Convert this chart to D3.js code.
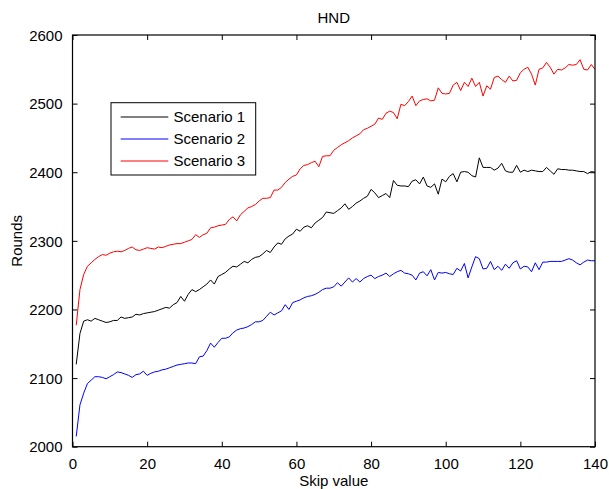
<!DOCTYPE html>
<html><head><meta charset="utf-8">
<script src="https://cdn.jsdelivr.net/npm/d3@7"></script>
<style>
html,body{margin:0;padding:0;background:#fff;}
svg text{font-family:"Liberation Sans",Arial,Helvetica,sans-serif;font-size:15px;fill:#000;}
</style></head>
<body>
<svg id="chart" width="609" height="489"></svg>
<script>
const title = "HND";
const xLabel = "Skip value";
const yLabel = "Rounds";
const seriesNames = ["Scenario 1", "Scenario 2", "Scenario 3"];
const seriesColors = ["#000000", "#0000ff", "#ff0000"];
const xTicks = [0, 20, 40, 60, 80, 100, 120, 140];
const yTicks = [2000, 2100, 2200, 2300, 2400, 2500, 2600];

const scenario1 = [
2120,2165,2183,2185,2183,2187,2185,2183,2181,2182,
2184,2184,2189,2187,2188,2189,2193,2192,2194,2195,
2196,2197,2199,2201,2203,2202,2207,2210,2219,2212,
2222,2229,2226,2229,2233,2237,2243,2237,2248,2251,
2254,2259,2263,2262,2266,2270,2268,2273,2276,2277,
2281,2286,2283,2291,2297,2295,2303,2307,2310,2317,
2314,2320,2322,2319,2326,2330,2334,2342,2341,2340,
2344,2348,2354,2346,2350,2355,2358,2362,2365,2375,
2370,2363,2366,2369,2363,2388,2381,2380,2380,2379,
2387,2389,2383,2393,2380,2378,2383,2368,2390,2386,
2394,2398,2386,2400,2401,2400,2395,2393,2421,2407,
2407,2407,2403,2406,2413,2402,2400,2400,2410,2400,
2403,2401,2403,2402,2401,2401,2407,2402,2397,2405,
2404,2404,2403,2403,2402,2401,2401,2398,2401,2400];

const scenario2 = [
2015,2061,2078,2092,2097,2102,2102,2101,2099,2102,
2105,2109,2108,2106,2104,2101,2105,2106,2110,2104,
2107,2109,2110,2112,2113,2115,2117,2119,2120,2121,
2122,2122,2121,2131,2132,2140,2151,2145,2152,2158,
2158,2160,2166,2170,2172,2173,2175,2178,2182,2182,
2184,2190,2196,2192,2195,2198,2207,2200,2210,2212,
2214,2217,2219,2220,2222,2225,2229,2231,2231,2233,
2239,2234,2240,2246,2240,2245,2240,2245,2248,2250,
2245,2248,2250,2253,2248,2252,2255,2257,2253,2252,
2250,2243,2253,2255,2249,2258,2243,2254,2253,2254,
2252,2251,2260,2256,2267,2246,2262,2277,2274,2259,
2260,2270,2258,2263,2257,2266,2260,2268,2271,2259,
2263,2262,2255,2268,2258,2269,2269,2270,2270,2270,
2270,2272,2274,2272,2268,2265,2269,2272,2271,2271];

const scenario3 = [
2177,2229,2251,2263,2268,2273,2277,2280,2279,2282,
2284,2285,2284,2286,2289,2291,2287,2286,2288,2290,
2289,2288,2291,2290,2292,2294,2295,2296,2296,2298,
2300,2302,2309,2305,2309,2311,2319,2320,2322,2323,
2324,2331,2335,2329,2338,2343,2348,2350,2353,2358,
2362,2362,2363,2374,2374,2378,2385,2390,2394,2396,
2405,2410,2411,2414,2416,2408,2423,2424,2424,2432,
2436,2440,2443,2446,2450,2453,2456,2462,2464,2467,
2470,2479,2477,2486,2489,2487,2478,2499,2497,2503,
2511,2497,2504,2506,2507,2504,2505,2523,2515,2514,
2515,2527,2531,2519,2531,2525,2537,2525,2531,2511,
2526,2521,2538,2540,2535,2531,2540,2533,2534,2545,
2550,2553,2543,2527,2550,2552,2560,2553,2543,2550,
2549,2552,2557,2556,2557,2564,2550,2549,2557,2550];

const allSeries = [scenario1, scenario2, scenario3];

const svg = d3.select("#chart");
const L = 72.5, R = 595, T = 35, B = 446.7;
const x = d3.scaleLinear().domain([0, 140]).range([L, R]);
const y = d3.scaleLinear().domain([2000, 2600]).range([B, T]);

// axes with inward ticks
const tickLen = 5;
const gx = svg.append("g").attr("transform", `translate(0,${B})`)
  .call(d3.axisBottom(x).tickValues(xTicks).tickSizeInner(-tickLen).tickSizeOuter(0).tickPadding(12).tickFormat(d3.format("d")));
const gxTop = svg.append("g").attr("transform", `translate(0,${T})`)
  .call(d3.axisTop(x).tickValues(xTicks).tickSizeInner(-tickLen).tickSizeOuter(0).tickFormat(""));
const gy = svg.append("g").attr("transform", `translate(${L},0)`)
  .call(d3.axisLeft(y).tickValues(yTicks).tickSizeInner(-tickLen).tickSizeOuter(0).tickPadding(10).tickFormat(d3.format("d")));
const gyR = svg.append("g").attr("transform", `translate(${R},0)`)
  .call(d3.axisRight(y).tickValues(yTicks).tickSizeInner(-tickLen).tickSizeOuter(0).tickFormat(""));
[gx, gxTop, gy, gyR].forEach(g => {
  g.select(".domain").remove();
  g.selectAll(".tick line").attr("stroke", "#000").attr("stroke-width", 1);
  g.selectAll(".tick text").style("font-size", "15px").attr("fill", "#000");
});
gx.selectAll(".tick text").attr("dy", "0.71em");
gy.selectAll(".tick text").attr("dy", "0.35em");

// lines
const line = d3.line().x((d, i) => x(i + 1)).y(d => y(d));
allSeries.forEach((s, k) => {
  svg.append("path").datum(s).attr("fill", "none")
    .attr("stroke", seriesColors[k]).attr("stroke-width", 1)
    .attr("d", line);
});

// box
svg.append("rect").attr("x", L).attr("y", T).attr("width", R - L).attr("height", B - T)
  .attr("fill", "none").attr("stroke", "#000").attr("stroke-width", 1.2);

// title & labels
svg.append("text").attr("x", (L + R) / 2).attr("y", 23).attr("text-anchor", "middle").text(title);
svg.append("text").attr("x", (L + R) / 2).attr("y", 486).attr("text-anchor", "middle").text(xLabel);
svg.append("text").attr("transform", `translate(22,${(T + B) / 2}) rotate(-90)`)
  .attr("text-anchor", "middle").text(yLabel);

// legend
const lg = svg.append("g");
lg.append("rect").attr("x", 111).attr("y", 102.7).attr("width", 144.7).attr("height", 72.3)
  .attr("fill", "#fff").attr("stroke", "#000").attr("stroke-width", 1);
seriesNames.forEach((n, k) => {
  const yy = 117 + k * 22;
  lg.append("line").attr("x1", 120.7).attr("x2", 168.3).attr("y1", yy).attr("y2", yy)
    .attr("stroke", seriesColors[k]).attr("stroke-width", 1);
  lg.append("text").attr("x", 173.5).attr("y", yy).attr("dy", "0.36em").text(n);
});
</script>
</body></html>
